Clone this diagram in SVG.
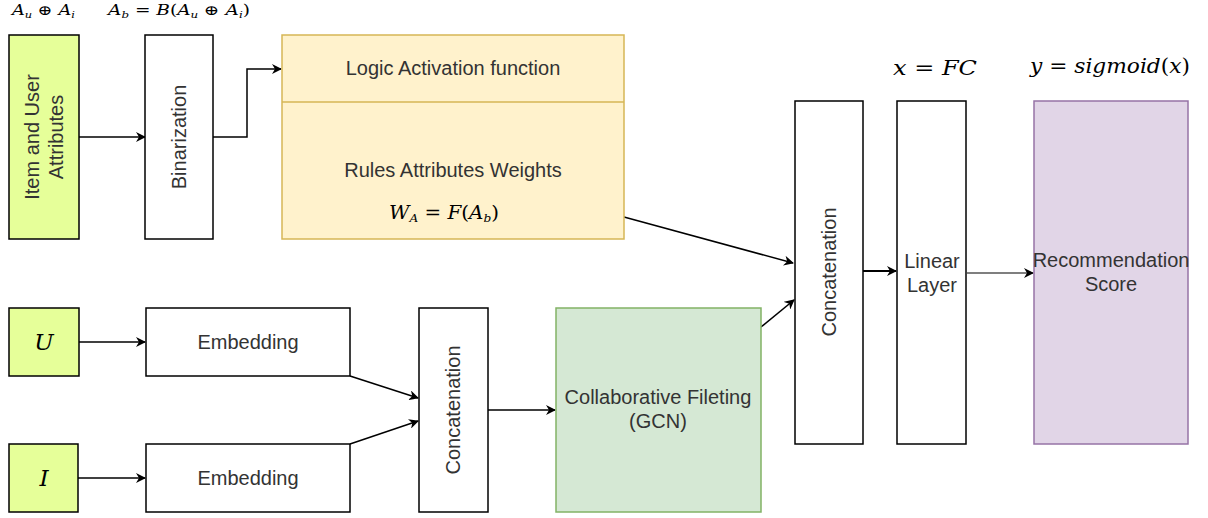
<svg xmlns="http://www.w3.org/2000/svg" width="1208" height="518" viewBox="0 0 1208 518">
<defs>
<marker id="arr" viewBox="0 0 10 10" refX="9" refY="5" markerWidth="10" markerHeight="10" markerUnits="userSpaceOnUse" orient="auto">
<path d="M0,0 L10,5 L0,10 L3,5 z" fill="#000"/>
</marker>
<style>
.box{stroke:#000;stroke-width:1.5;fill:#fff}
.attr{fill:#e6ff99;stroke:#000;stroke-width:1.5}
.lbl{font-family:"Liberation Sans",Arial,sans-serif;font-size:20px;fill:#333;text-anchor:middle}
.math{font-family:"DejaVu Serif","Liberation Serif",serif;fill:#000}
.it{font-style:italic}
.c{stroke:#000;stroke-width:1.5;fill:none;marker-end:url(#arr)}
</style>
</defs>
<rect width="1208" height="518" fill="#fff"/>

<g id="math-labels" class="math">
<text x="12" y="15" font-size="14" textLength="63" lengthAdjust="spacingAndGlyphs"><tspan class="it">A</tspan><tspan class="it" font-size="9" dy="3">u</tspan><tspan dy="-3"> ⊕ </tspan><tspan class="it">A</tspan><tspan class="it" font-size="9" dy="3">i</tspan></text>
<text x="108" y="15" font-size="14" textLength="142" lengthAdjust="spacingAndGlyphs"><tspan class="it">A</tspan><tspan class="it" font-size="9" dy="3">b</tspan><tspan dy="-3"> = </tspan><tspan class="it">B</tspan>(<tspan class="it">A</tspan><tspan class="it" font-size="9" dy="3">u</tspan><tspan dy="-3"> ⊕ </tspan><tspan class="it">A</tspan><tspan class="it" font-size="9" dy="3">i</tspan><tspan dy="-3">)</tspan></text>
<text x="893" y="75" font-size="20" textLength="84" lengthAdjust="spacingAndGlyphs"><tspan class="it">x</tspan> = <tspan class="it">FC</tspan></text>
<text x="1030" y="73" font-size="20" textLength="160" lengthAdjust="spacingAndGlyphs"><tspan class="it">y</tspan> = <tspan class="it">sigmoid</tspan>(<tspan class="it">x</tspan>)</text>
</g>

<g id="connectors">
<path class="c" d="M79,137 L145,137"/>
<path class="c" d="M213,137 L247,137 L247,69 L281,69"/>
<path class="c" d="M79,342 L145,342"/>
<path class="c" d="M78,478 L145,478"/>
<path class="c" d="M350,376 L418,398"/>
<path class="c" d="M350,444 L418,421"/>
<path class="c" d="M488,410 L555,410"/>
<path class="c" d="M624,217 L793,263"/>
<path class="c" d="M761,327 L794,300"/>
<path class="c" d="M863,271 L896,271" style="stroke-width:2.2"/>
<path class="c" d="M967,273 L1033,273" style="stroke:#555"/>
</g>

<g id="item-user-attributes">
<rect class="attr" x="9" y="35" width="70" height="204"/>
<text class="lbl" transform="translate(44,137) rotate(-90)"><tspan x="0" y="-5">Item and User</tspan><tspan x="0" y="19">Attributes</tspan></text>
</g>

<g id="binarization">
<rect class="box" x="145" y="35" width="68" height="204"/>
<text class="lbl" transform="translate(179,137) rotate(-90)" y="7">Binarization</text>
</g>

<g id="logic-rules">
<rect x="282" y="35" width="342" height="204" fill="#fff2cc" stroke="#d6b656" stroke-width="1.5"/>
<line x1="282" y1="102" x2="624" y2="102" stroke="#d6b656" stroke-width="1.5"/>
<text class="lbl" x="453" y="75">Logic Activation function</text>
<text class="lbl" x="453" y="177">Rules Attributes Weights</text>
<text class="math" x="389" y="219" font-size="18" textLength="110" lengthAdjust="spacingAndGlyphs"><tspan class="it">W</tspan><tspan class="it" font-size="11" dy="3">A</tspan><tspan dy="-3"> = </tspan><tspan class="it">F</tspan>(<tspan class="it">A</tspan><tspan class="it" font-size="11" dy="3">b</tspan><tspan dy="-3">)</tspan></text>
</g>

<g id="u">
<rect class="attr" x="9" y="308" width="70" height="68"/>
<text class="math it" x="44" y="350" font-size="23" text-anchor="middle">U</text>
</g>

<g id="i">
<rect class="attr" x="9" y="444" width="69" height="68"/>
<text class="math it" x="44" y="486" font-size="23" text-anchor="middle">I</text>
</g>

<g id="embedding-u">
<rect class="box" x="146" y="308" width="204" height="68"/>
<text class="lbl" x="248" y="349">Embedding</text>
</g>

<g id="embedding-i">
<rect class="box" x="146" y="444" width="204" height="68"/>
<text class="lbl" x="248" y="485">Embedding</text>
</g>

<g id="concatenation-1">
<rect class="box" x="419" y="308" width="69" height="204"/>
<text class="lbl" transform="translate(453,410) rotate(-90)" y="7">Concatenation</text>
</g>

<g id="gcn">
<rect x="556" y="308" width="205" height="204" fill="#d5e8d4" stroke="#82b366" stroke-width="1.5"/>
<text class="lbl" x="658" y="404">Collaborative Fileting</text>
<text class="lbl" x="658" y="428">(GCN)</text>
</g>

<g id="concatenation-2">
<rect class="box" x="795" y="101" width="68" height="343"/>
<text class="lbl" transform="translate(829,272) rotate(-90)" y="7">Concatenation</text>
</g>

<g id="linear-layer">
<rect class="box" x="897" y="101" width="69" height="343"/>
<text class="lbl" x="932" y="268">Linear</text>
<text class="lbl" x="932" y="292">Layer</text>
</g>

<g id="recommendation-score">
<rect x="1034" y="101" width="154" height="343" fill="#e1d5e7" stroke="#9673a6" stroke-width="1.5"/>
<text class="lbl" x="1111" y="267" font-size="16">Recommendation</text>
<text class="lbl" x="1111" y="291" font-size="16">Score</text>
</g>
</svg>
